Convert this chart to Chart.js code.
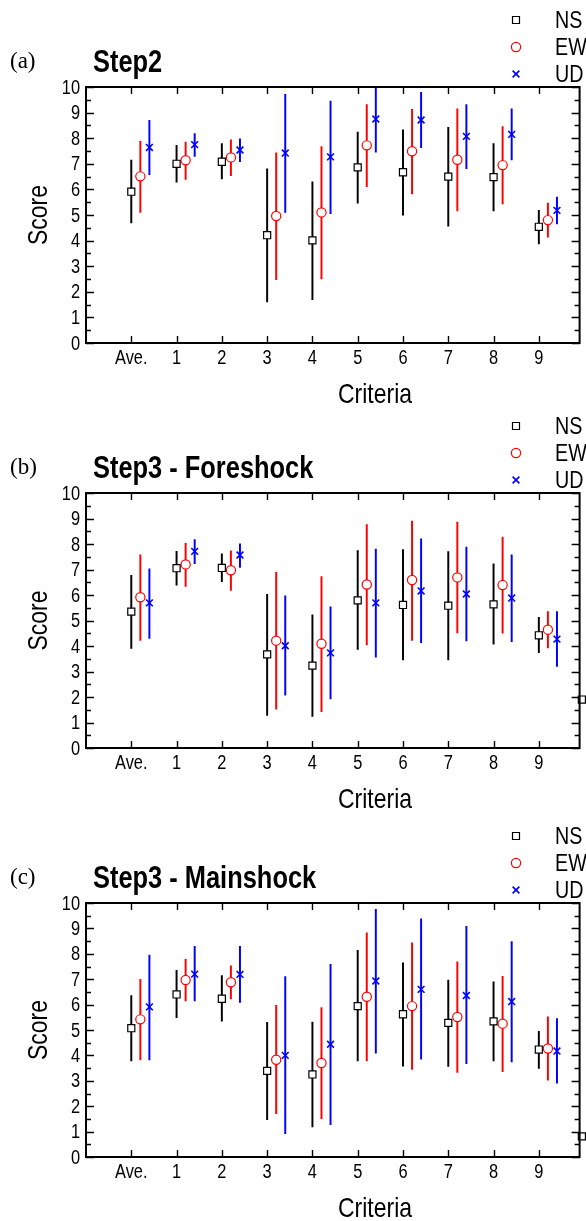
<!DOCTYPE html>
<html>
<head>
<meta charset="utf-8">
<script src="https://cdn.jsdelivr.net/npm/chart.js@4.4.1/dist/chart.umd.min.js"></script>
<style>
  html, body { margin: 0; padding: 0; background: #fff; }
  canvas { position: absolute; left: 0; }
</style>
</head>
<body>
<canvas id="stepA" width="586" height="406" style="top:0"></canvas>
<canvas id="stepB" width="586" height="410" style="top:406px"></canvas>
<canvas id="stepC" width="586" height="405" style="top:816px"></canvas>
<script>
const categories = ['Ave.', '1', '2', '3', '4', '5', '6', '7', '8', '9'];
const yTicks = [0, 1, 2, 3, 4, 5, 6, 7, 8, 9, 10];
const seriesNames = ['NS', 'EW', 'UD'];

// Step2
const aNS     = [5.91, 7.00, 7.08, 4.21, 4.01, 6.86, 6.67, 6.50, 6.48, 4.54];
const aNSLow  = [4.69, 6.28, 6.41, 1.60, 1.69, 5.46, 4.99, 4.56, 5.16, 3.87];
const aNSHigh = [7.15, 7.72, 7.79, 6.80, 6.30, 8.24, 8.33, 8.42, 7.79, 5.18];
const aEW     = [6.51, 7.14, 7.25, 4.96, 5.10, 7.72, 7.49, 7.16, 6.95, 4.80];
const aEWLow  = [5.10, 6.39, 6.54, 2.47, 2.50, 6.11, 5.82, 5.16, 5.43, 4.13];
const aEWHigh = [7.88, 7.85, 7.94, 7.43, 7.67, 9.31, 9.13, 9.15, 8.45, 5.47];
const aUD     = [7.64, 7.75, 7.54, 7.42, 7.27, 8.75, 8.71, 8.07, 8.15, 5.18];
const aUDLow  = [6.58, 7.29, 7.08, 5.10, 5.05, 7.45, 7.63, 6.81, 7.15, 4.65];
const aUDHigh = [8.70, 8.18, 7.98, 9.71, 9.45, 10.1, 9.79, 9.31, 9.15, 5.70];

// Step3 - Foreshock
const bNS     = [5.35, 7.05, 7.06, 3.67, 3.23, 5.79, 5.61, 5.58, 5.63, 4.42];
const bNSLow  = [3.91, 6.39, 6.52, 1.28, 1.24, 3.87, 3.45, 3.45, 4.07, 3.74];
const bNSHigh = [6.77, 7.71, 7.61, 6.03, 5.22, 7.74, 7.78, 7.70, 7.22, 5.12];
const bEW     = [5.91, 7.20, 6.97, 4.21, 4.09, 6.41, 6.59, 6.69, 6.39, 4.64];
const bEWLow  = [4.22, 6.34, 6.18, 1.52, 1.42, 4.04, 4.22, 4.51, 4.50, 3.92];
const bEWHigh = [7.58, 8.03, 7.73, 6.89, 6.72, 8.76, 8.90, 8.86, 8.27, 5.35];
const bUD     = [5.69, 7.71, 7.57, 4.01, 3.73, 5.69, 6.16, 6.04, 5.88, 4.27];
const bUDLow  = [4.30, 7.23, 7.08, 2.07, 1.92, 3.56, 4.13, 4.20, 4.17, 3.20];
const bUDHigh = [7.03, 8.17, 8.01, 5.97, 5.54, 7.80, 8.20, 7.88, 7.58, 5.35];

// Step3 - Mainshock
const cNS     = [5.07, 6.40, 6.23, 3.39, 3.25, 5.94, 5.62, 5.28, 5.34, 4.23];
const cNSLow  = [3.78, 5.49, 5.35, 1.47, 1.18, 3.78, 3.58, 3.57, 3.78, 3.49];
const cNSHigh = [6.36, 7.35, 7.14, 5.30, 5.31, 8.14, 7.64, 6.97, 6.90, 4.95];
const cEW     = [5.42, 6.97, 6.88, 3.83, 3.70, 6.31, 5.94, 5.51, 5.25, 4.27];
const cEWLow  = [3.82, 6.14, 6.22, 1.71, 1.51, 3.78, 3.45, 3.33, 3.36, 3.02];
const cEWHigh = [6.99, 7.78, 7.53, 5.97, 5.88, 8.83, 8.43, 7.68, 7.11, 5.52];
const cUD     = [5.91, 7.20, 7.19, 4.00, 4.44, 6.93, 6.60, 6.36, 6.12, 4.17];
const cUDLow  = [3.82, 6.14, 6.09, 0.92, 1.27, 4.09, 3.85, 3.67, 3.74, 2.91];
const cUDHigh = [7.95, 8.29, 8.29, 7.10, 7.59, 9.75, 9.38, 9.08, 8.48, 5.45];

// NS point sitting on the right frame
const edgeX = 9.95;
const edgeNS = [null, 1.90, 0.81];

const SANS = '"Liberation Sans", Arial, sans-serif';
const SQUEEZE = 0.82; // condensed look for all sans text
const colors = ['#000000', '#ff0000', '#0000ff'];
const styles = ['rect', 'circle', 'crossRot'];
const radii = [5, 4.6, 4.8];

function markerSet(k, pts) {
  return {
    type: 'scatter',
    data: pts,
    pointStyle: styles[k],
    pointRadius: radii[k],
    pointBorderColor: colors[k],
    pointBackgroundColor: '#ffffff',
    pointBorderWidth: k === 2 ? 1.6 : 1.2,
    showLine: false,
    clip: false,
    order: 1
  };
}

function buildDatasets(series, edge) {
  const sets = [];
  series.forEach((s, k) => {
    const off = k * 0.2;
    sets.push({
      type: 'bar',
      data: categories.map((c, i) => ({ x: i + off, y: [s.low[i], s.high[i]] })),
      backgroundColor: colors[k],
      borderWidth: 0,
      barThickness: 1.3,
      grouped: false,
      clip: 0,
      order: 2
    });
    sets.push(markerSet(k, categories.map((c, i) => ({ x: i + off, y: s.mid[i] }))));
  });
  if (edge != null) sets.push(markerSet(0, [{ x: edgeX, y: edge }]));
  return sets;
}

function squeezedText(ctx, text, x, y, align) {
  ctx.save();
  ctx.translate(x, y);
  ctx.scale(SQUEEZE, 1);
  ctx.textAlign = align;
  ctx.fillText(text, 0, 0);
  ctx.restore();
}

// frame, inward ticks, tick labels, titles and legend
const panelDeco = {
  id: 'panelDeco',
  afterDraw(chart, args, opts) {
    const ctx = chart.ctx;
    const { left, right, top, bottom } = chart.chartArea;
    const xs = chart.scales.x, ys = chart.scales.y;
    ctx.save();
    ctx.strokeStyle = '#000';
    ctx.lineWidth = 1.4;
    ctx.beginPath();
    categories.forEach((c, i) => {
      const px = Math.round(xs.getPixelForValue(i)) + 0.5;
      ctx.moveTo(px, top); ctx.lineTo(px, top + 7);
      ctx.moveTo(px, bottom); ctx.lineTo(px, bottom - 7);
    });
    for (let v = 0; v <= 10; v += 0.5) {
      const py = Math.round(ys.getPixelForValue(v)) + 0.5;
      const len = Number.isInteger(v) ? 8 : 5;
      ctx.moveTo(left, py); ctx.lineTo(left + len, py);
      ctx.moveTo(right, py); ctx.lineTo(right - len, py);
    }
    ctx.stroke();
    ctx.lineWidth = 2;
    ctx.strokeRect(left, top, right - left, bottom - top);

    ctx.fillStyle = '#000';
    ctx.font = '20px ' + SANS;
    ctx.textBaseline = 'top';
    categories.forEach((c, i) => squeezedText(ctx, c, xs.getPixelForValue(i), bottom + 5, 'center'));
    ctx.textBaseline = 'middle';
    yTicks.forEach(v => squeezedText(ctx, String(v), left - 6, ys.getPixelForValue(v) + 1, 'right'));

    ctx.textBaseline = 'middle';
    ctx.textAlign = 'left';
    ctx.font = '23px "Liberation Serif", serif';
    ctx.fillText(opts.letter, 10, top - 25);
    ctx.textBaseline = 'alphabetic';
    ctx.font = 'bold 31px ' + SANS;
    squeezedText(ctx, opts.title, 93, top - 15, 'left');

    ctx.font = '28px ' + SANS;
    squeezedText(ctx, 'Criteria', 375, bottom + 60, 'center');
    ctx.save();
    ctx.translate(39, (top + bottom) / 2);
    ctx.rotate(-Math.PI / 2);
    ctx.textBaseline = 'middle';
    squeezedText(ctx, 'Score', 0, 0, 'center');
    ctx.restore();

    // legend
    ctx.font = '24px ' + SANS;
    ctx.textBaseline = 'middle';
    seriesNames.forEach((name, k) => {
      const y = top - 67 + k * 27;
      const x = 516;
      ctx.strokeStyle = colors[k];
      ctx.lineWidth = k === 2 ? 1.6 : 1.2;
      ctx.beginPath();
      if (k === 0) ctx.rect(x - 3.5, y - 3.5, 7, 7);
      else if (k === 1) ctx.arc(x, y, 4.6, 0, Math.PI * 2);
      else { ctx.moveTo(x - 3.4, y - 3.4); ctx.lineTo(x + 3.4, y + 3.4); ctx.moveTo(x + 3.4, y - 3.4); ctx.lineTo(x - 3.4, y + 3.4); }
      ctx.stroke();
      ctx.fillStyle = '#000';
      squeezedText(ctx, name, 555, y + 1, 'left');
    });
    ctx.restore();
  }
};

function makePanel(id, letter, title, series, edge, plotBottom) {
  const canvas = document.getElementById(id);
  return new Chart(canvas, {
    type: 'scatter',
    data: { datasets: buildDatasets(series, edge) },
    options: {
      responsive: false,
      animation: false,
      events: [],
      layout: { padding: { top: 87, right: 5, left: 0, bottom: 0 } },
      plugins: {
        legend: { display: false },
        tooltip: { enabled: false },
        panelDeco: { letter: letter, title: title }
      },
      scales: {
        x: {
          type: 'linear',
          min: -1,
          max: 9.9,
          offset: false,
          grid: { display: false, drawTicks: false },
          border: { display: false },
          afterBuildTicks: s => { s.ticks = categories.map((c, i) => ({ value: i })); },
          afterFit: s => { s.height = canvas.height - plotBottom; },
          ticks: { display: false }
        },
        y: {
          min: 0,
          max: 10,
          grid: { display: false, drawTicks: false },
          border: { display: false },
          afterBuildTicks: s => { s.ticks = yTicks.map(v => ({ value: v })); },
          afterFit: s => { s.width = 86; },
          ticks: { display: false }
        }
      }
    },
    plugins: [panelDeco]
  });
}

makePanel('stepA', '(a)', 'Step2', [
  { mid: aNS, low: aNSLow, high: aNSHigh },
  { mid: aEW, low: aEWLow, high: aEWHigh },
  { mid: aUD, low: aUDLow, high: aUDHigh }
], edgeNS[0], 343);

makePanel('stepB', '(b)', 'Step3 - Foreshock', [
  { mid: bNS, low: bNSLow, high: bNSHigh },
  { mid: bEW, low: bEWLow, high: bEWHigh },
  { mid: bUD, low: bUDLow, high: bUDHigh }
], edgeNS[1], 342);

makePanel('stepC', '(c)', 'Step3 - Mainshock', [
  { mid: cNS, low: cNSLow, high: cNSHigh },
  { mid: cEW, low: cEWLow, high: cEWHigh },
  { mid: cUD, low: cUDLow, high: cUDHigh }
], edgeNS[2], 341);
</script>
</body>
</html>
